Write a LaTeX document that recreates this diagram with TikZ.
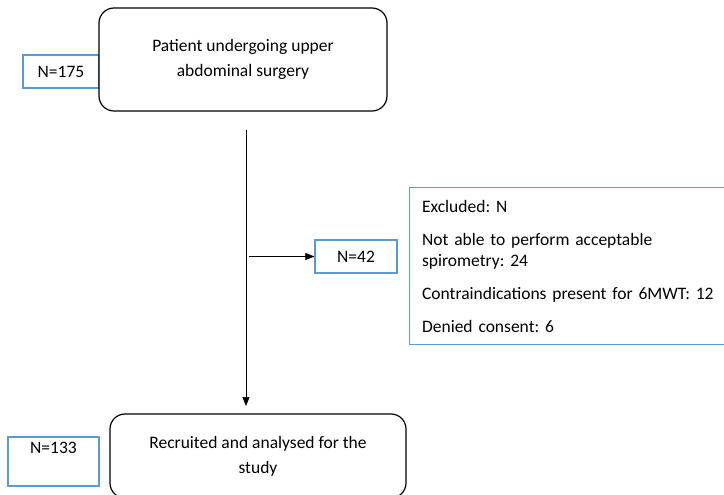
\documentclass[tikz,border=0pt]{standalone}
\usepackage{fontspec}
\setmainfont{Carlito}
\usepackage{xcolor}
\usepackage{tikz}
\usetikzlibrary{arrows.meta, positioning}
\definecolor{ink}{HTML}{000000}
\definecolor{count}{HTML}{5B9BD5}
\frenchspacing
\tikzset{
  stage/.style    = {draw=ink, line width=1.2pt, rectangle, rounded corners=15pt, fill=white,
                     align=center, font=\fontsize{17.5}{25}\selectfont},
  tally/.style    = {draw=count, line width=1.2pt, rectangle, fill=white,
                     align=center, font=\fontsize{17.5}{21}\selectfont},
  flow/.style     = {-{Triangle[length=9pt, width=7pt]}, draw=ink, line width=0.6pt},
}

\begin{document}
\begin{tikzpicture}[x=1pt, y=-1pt]
  \useasboundingbox (0,0) rectangle (724,495);
  \clip (0,0) rectangle (724,495);

  % counts on the left sit behind the stage boxes
  \node[tally, minimum width=76pt, minimum height=33pt] (n175) at (61,71.5) {N=175};
  \node[stage, minimum width=288pt, minimum height=103pt] (patients) at (243,59.5)
    {Patient undergoing upper\\abdominal surgery};

  \node[stage, minimum width=296pt, minimum height=84pt] (recruited) at (258,456)
    {Recruited and analysed for the\\study};
  \node[tally, minimum width=91pt, inner sep=4pt, text height=12pt, text depth=29pt] (n133) at (53.5,461.5) {N=133};

  \node[tally, minimum width=82pt, minimum height=33pt] (n42) at (356,256.5) {N=42};
  \node[tally, anchor=north west, minimum width=325pt, minimum height=157pt,
        text width=300pt, inner xsep=12pt, align=left] (excluded) at (409,187)
    {Excluded: N\\[12pt]
     Not able to perform acceptable\\spirometry: 24\\[12pt]
     Contraindications present for 6MWT: 12\\[12pt]
     Denied consent: 6};

  \coordinate (trunk) at (246,130);
  \coordinate (trunkend) at (246,406);
  \coordinate (branch) at (249,256.5);

  \draw[flow] (trunk) -- (trunkend);
  \draw[flow] (branch) -- (n42.west);
\end{tikzpicture}
\end{document}
